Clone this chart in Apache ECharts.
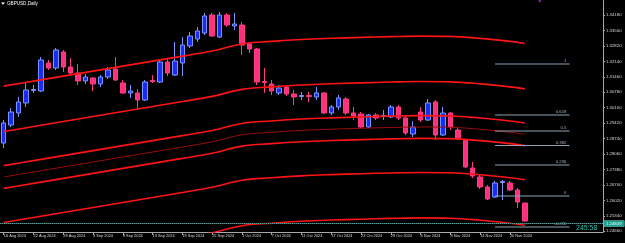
<!DOCTYPE html>
<html><head><meta charset="utf-8">
<script src="https://cdn.jsdelivr.net/npm/echarts@6/dist/echarts.min.js"></script>
<style>html,body{margin:0;padding:0;background:#000;}#c{width:625px;height:243px;}</style>
</head><body><div id="c"></div>
<script>
// ---- data ----
const dates = ['16 Aug 2024','19 Aug 2024','20 Aug 2024','21 Aug 2024','22 Aug 2024','23 Aug 2024','26 Aug 2024','27 Aug 2024','28 Aug 2024','29 Aug 2024','30 Aug 2024',
'2 Sep 2024','3 Sep 2024','4 Sep 2024','5 Sep 2024','6 Sep 2024','9 Sep 2024','10 Sep 2024','11 Sep 2024','12 Sep 2024','13 Sep 2024','16 Sep 2024','17 Sep 2024','18 Sep 2024','19 Sep 2024','20 Sep 2024','23 Sep 2024','24 Sep 2024','25 Sep 2024','26 Sep 2024','27 Sep 2024','30 Sep 2024',
'1 Oct 2024','2 Oct 2024','3 Oct 2024','4 Oct 2024','7 Oct 2024','8 Oct 2024','9 Oct 2024','10 Oct 2024','11 Oct 2024','14 Oct 2024','15 Oct 2024','16 Oct 2024','17 Oct 2024','18 Oct 2024','21 Oct 2024','22 Oct 2024','23 Oct 2024','24 Oct 2024','25 Oct 2024','28 Oct 2024','29 Oct 2024','30 Oct 2024','31 Oct 2024',
'1 Nov 2024','4 Nov 2024','5 Nov 2024','6 Nov 2024','7 Nov 2024','8 Nov 2024','11 Nov 2024','12 Nov 2024','13 Nov 2024','14 Nov 2024','15 Nov 2024','18 Nov 2024','19 Nov 2024','20 Nov 2024','21 Nov 2024','22 Nov 2024'];
const futureDates = ['25 Nov 2024','26 Nov 2024','27 Nov 2024','28 Nov 2024','29 Nov 2024','2 Dec 2024','3 Dec 2024','4 Dec 2024','5 Dec 2024','6 Dec 2024'];

const open  = [1.28546,1.29338,1.29867,1.30307,1.30857,1.30835,1.32067,1.31847,1.32551,1.31891,1.31627,
1.31275,1.31407,1.31143,1.31451,1.31803,1.31187,1.30747,1.30747,1.30439,1.31297,1.31231,1.32111,1.31539,1.32067,1.32815,1.33124,1.33388,1.34180,1.33212,1.34180,1.33696,
1.33740,1.32903,1.32683,1.31253,1.31143,1.30747,1.31011,1.30703,1.30593,1.30637,1.30571,1.30747,1.29867,1.30131,1.30483,1.29867,1.29823,1.29250,1.29779,1.29713,1.29691,1.30131,1.29647,
1.28942,1.29911,1.29558,1.30351,1.28898,1.29867,1.29118,1.28678,1.27446,1.27050,1.26610,1.26169,1.26808,1.26786,1.26478,1.25905];
const close = [1.29426,1.29911,1.30351,1.30879,1.30901,1.32199,1.31847,1.32639,1.31891,1.31627,1.31275,
1.31451,1.31143,1.31451,1.31759,1.31319,1.30747,1.30835,1.30439,1.31231,1.31253,1.32111,1.31627,1.32155,1.32859,1.33256,1.33476,1.34136,1.33256,1.34180,1.33740,1.33784,
1.32859,1.32683,1.31231,1.31209,1.30835,1.30967,1.30703,1.30571,1.30637,1.30593,1.30747,1.29867,1.30131,1.30527,1.29867,1.29735,1.29250,1.29779,1.29647,1.29757,1.30131,1.29647,1.28986,
1.29250,1.29558,1.30307,1.28898,1.29867,1.29250,1.28722,1.27490,1.27094,1.26610,1.26081,1.26786,1.26852,1.26478,1.25949,1.25113];
const low   = [1.28326,1.29250,1.29691,1.30131,1.30747,1.30791,1.31759,1.31759,1.31671,1.31583,1.31099,
1.31143,1.30835,1.31011,1.31363,1.31275,1.30703,1.30527,1.29999,1.30395,1.31187,1.31187,1.31495,1.31495,1.31495,1.32727,1.32992,1.33300,1.33212,1.33168,1.33652,1.33520,
1.32419,1.32507,1.31099,1.30747,1.30659,1.30659,1.30615,1.30219,1.30439,1.30351,1.30439,1.29823,1.29779,1.29999,1.29779,1.29558,1.29206,1.29206,1.29558,1.29558,1.29647,1.29558,1.28898,
1.28810,1.29470,1.29514,1.28678,1.28854,1.29118,1.28678,1.27446,1.27006,1.26522,1.26037,1.26125,1.26037,1.26434,1.25685,1.25069];
const high  = [1.29558,1.30087,1.30571,1.31187,1.31099,1.32331,1.32199,1.32727,1.32639,1.32287,1.32023,
1.31583,1.31451,1.31539,1.31891,1.32331,1.31319,1.31099,1.30923,1.31319,1.31539,1.32199,1.32287,1.32992,1.33212,1.33432,1.33652,1.34268,1.34268,1.34312,1.34268,1.34268,
1.33872,1.32992,1.32727,1.31847,1.31319,1.31099,1.31099,1.30879,1.30791,1.30791,1.31011,1.30791,1.30219,1.30659,1.30571,1.30131,1.29911,1.29823,1.29867,1.29999,1.30219,1.30219,1.29735,
1.29514,1.30131,1.30483,1.30439,1.30131,1.29911,1.29206,1.28722,1.27710,1.27138,1.26698,1.26876,1.26918,1.26876,1.26566,1.25905];

const priceTicks = [1.34180,1.33500,1.32820,1.32140,1.31460,1.30780,1.30100,1.29420,1.28740,1.28060,1.27380,1.26700,1.26020,1.25340,1.24660];

// channel lines, read at every 4th bar and at the last bar
const bandIdx  = [0,4,8,12,16,20,24,28,32,36,40,44,48,52,56,60,64,68,70];
const bandUp3  = [1.31050,1.31270,1.31490,1.31710,1.31930,1.32150,1.32370,1.32599,1.32907,1.33017,1.33101,1.33154,1.33193,1.33228,1.33250,1.33237,1.33149,1.33017,1.32929];
const bandUp2  = [1.29050,1.29270,1.29490,1.29710,1.29930,1.30150,1.30370,1.30599,1.30907,1.31017,1.31101,1.31154,1.31193,1.31228,1.31250,1.31237,1.31149,1.31017,1.30929];
const bandUp1  = [1.27550,1.27770,1.27990,1.28210,1.28430,1.28650,1.28870,1.29099,1.29407,1.29517,1.29601,1.29654,1.29693,1.29728,1.29750,1.29737,1.29649,1.29517,1.29429];
const bandMid  = [1.27050,1.27270,1.27490,1.27710,1.27930,1.28150,1.28370,1.28599,1.28907,1.29017,1.29101,1.29154,1.29193,1.29228,1.29250,1.29237,1.29149,1.29017,1.28929];
const bandDn1  = [1.26550,1.26770,1.26990,1.27210,1.27430,1.27650,1.27870,1.28099,1.28407,1.28517,1.28601,1.28654,1.28693,1.28728,1.28750,1.28737,1.28649,1.28517,1.28429];
const bandDn2  = [1.25050,1.25270,1.25490,1.25710,1.25930,1.26150,1.26370,1.26599,1.26907,1.27017,1.27101,1.27154,1.27193,1.27228,1.27250,1.27237,1.27149,1.27017,1.26929];
const bandDn3  = [1.23050,1.23270,1.23490,1.23710,1.23930,1.24150,1.24370,1.24599,1.24907,1.25017,1.25101,1.25154,1.25193,1.25228,1.25250,1.25237,1.25149,1.25017,1.24929];

const fibLabels = ['1','0.618','0.5','0.382','0.236','0','-0.236'];
const fibPrices = [1.32023,1.29779,1.29074,1.28436,1.27578,1.26214,1.24849];
const fibStart = 66, fibEnd = 76;

const bidPrice = 1.25113;
const timerPrice = 1.24849;
const countdown = '245:58';
const objectMarker = [[72, 1.34800]];
const title = 'GBPUSD,Daily';

// ---- chart ----
const FONT = 'Liberation Sans';
const categories = dates.concat(futureDates);
const showLabel = (i) => i % 4 === 0 && i < dates.length - 2;
const candleData = open.map((o, i) => [o, close[i], low[i], high[i]]);
const toPairs = (arr) => bandIdx.map((k, j) => [k, arr[j]]);

const bands = [
  {d: bandUp3, c: '#ff1414', w: 1.6},
  {d: bandUp2, c: '#ff1414', w: 1.6},
  {d: bandUp1, c: '#ff1414', w: 1.6},
  {d: bandMid, c: '#9a0c0c', w: 1},
  {d: bandDn1, c: '#ff1414', w: 1.6},
  {d: bandDn2, c: '#ff1414', w: 1.6},
  {d: bandDn3, c: '#ff1414', w: 1.6}
];

const series = [{
  type: 'candlestick',
  data: candleData,
  barWidth: 5,
  z: 2,
  itemStyle: {
    color: '#1b2cf2', borderColor: '#7a94ff',
    color0: '#ff2f7f', borderColor0: '#ff3a86',
    borderWidth: 1
  },
  markLine: {
    silent: true, symbol: 'none', animation: false,
    data: [
      {yAxis: bidPrice, lineStyle: {color: '#4d4d4d', type: 'solid', width: 1},
        label: {show: true, position: 'end', distance: 1, formatter: bidPrice.toFixed(5),
          backgroundColor: '#ffffff', color: '#000', fontSize: 4.3, fontFamily: FONT, padding: [1, 3, 1, 2]}},
      {yAxis: timerPrice, lineStyle: {color: '#5c9c96', type: 'dotted', width: 1},
        label: {show: true, position: 'end', distance: 1, formatter: timerPrice.toFixed(5),
          backgroundColor: '#1a9e8e', color: '#e8fffa', fontSize: 4.3, fontFamily: FONT, padding: [1, 3, 1, 2]}}
    ]
  }
}];

bands.forEach(b => series.push({
  type: 'line', data: toPairs(b.d), smooth: 0.4, symbol: 'none', z: 3,
  lineStyle: {color: b.c, width: b.w}, silent: true
}));

fibPrices.forEach((p, j) => series.push({
  type: 'line', symbol: 'rect', symbolSize: 0, z: 4, silent: true,
  lineStyle: {color: '#8fa3b6', width: 1},
  data: [[fibStart, p], {value: [fibEnd, p], label: {show: true, formatter: fibLabels[j], position: 'top',
    align: 'right', distance: 1, offset: [-3, 0], color: '#9fb2c4', fontSize: 4.3, fontFamily: FONT}}]
}));

series.push({type: 'scatter', data: objectMarker, symbolSize: 2.5, itemStyle: {color: '#8a3ed0'}, z: 5, silent: true});

const chart = echarts.init(document.getElementById('c'), null, {renderer: 'canvas'});
chart.setOption({
  backgroundColor: '#000000',
  animation: false,
  grid: {left: -4.25, right: 22, top: 0, bottom: 11, containLabel: false},
  xAxis: {
    type: 'category', data: categories, boundaryGap: true,
    axisLine: {show: true, lineStyle: {color: '#a8a8a8', width: 1}},
    axisTick: {show: true, interval: (i) => showLabel(i), alignWithLabel: true, length: 3, lineStyle: {color: '#a8a8a8'}},
    axisLabel: {interval: (i) => showLabel(i), align: 'left', color: '#d8d8d8', fontSize: 3.9, fontFamily: FONT, margin: 2},
    splitLine: {show: false}
  },
  yAxis: {
    type: 'value', position: 'right', min: 1.24629, max: 1.34840, scale: true,
    axisLine: {show: true, lineStyle: {color: '#a8a8a8', width: 1}},
    axisTick: {show: true, customValues: priceTicks, length: 2, lineStyle: {color: '#a8a8a8'}},
    axisLabel: {customValues: priceTicks, formatter: (v) => v.toFixed(5), color: '#d8d8d8', fontSize: 4.3, fontFamily: FONT, margin: 3},
    splitLine: {show: false}
  },
  graphic: [
    {type: 'polygon', shape: {points: [[1, 2.5], [5, 2.5], [3, 4.8]]}, style: {fill: '#ffffff'}},
    {type: 'text', x: 7, y: 3.8, style: {text: title, fill: '#ffffff', font: '4.6px ' + FONT, verticalAlign: 'middle', textVerticalAlign: 'middle'}},
    {type: 'text', x: 576, y: 228, style: {text: countdown, fill: '#27bfae', font: '7px ' + FONT, verticalAlign: 'middle', textVerticalAlign: 'middle'}}
  ],
  series: series
});
</script>
</body></html>
